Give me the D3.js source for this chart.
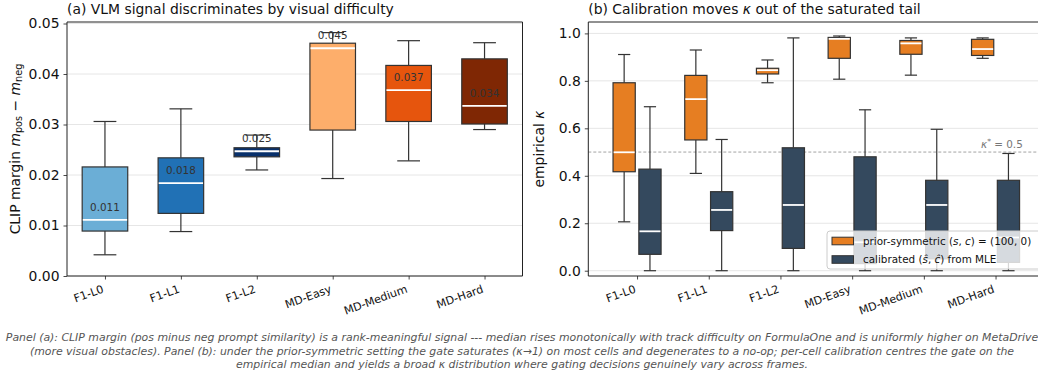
<!DOCTYPE html>
<html>
<head>
<meta charset="utf-8">
<script src="https://cdn.jsdelivr.net/npm/d3@7"></script>
<style>
  body { margin: 0; background: #fff; }
  svg { display: block; font-family: "DejaVu Sans", sans-serif; }
</style>
</head>
<body>
<svg id="fig" width="1038" height="375"></svg>
<script>
// ---- data -------------------------------------------------------------
const categories = ["F1-L0", "F1-L1", "F1-L2", "MD-Easy", "MD-Medium", "MD-Hard"];

// Panel (a): CLIP margin per cell (whisker low, Q1, median, Q3, whisker high)
const marginLow    = [0.0042, 0.0088, 0.0210, 0.0193, 0.0228, 0.0290];
const marginQ1     = [0.0089, 0.0124, 0.0236, 0.0289, 0.0306, 0.0301];
const marginMedian = [0.0111, 0.0184, 0.0247, 0.0451, 0.0368, 0.0337];
const marginQ3     = [0.0216, 0.0234, 0.0254, 0.0461, 0.0417, 0.0430];
const marginHigh   = [0.0306, 0.0331, 0.0279, 0.0482, 0.0466, 0.0462];
const marginColors = ["#6baed6", "#2171b5", "#08306b", "#fdae6b", "#e6550d", "#7f2704"];
const marginTicks  = [0.00, 0.01, 0.02, 0.03, 0.04, 0.05];

// Panel (b): empirical kappa, prior-symmetric vs calibrated gate
const priorLow     = [0.206, 0.410, 0.792, 0.807, 0.824, 0.895];
const priorQ1      = [0.417, 0.551, 0.829, 0.895, 0.912, 0.907];
const priorMedian  = [0.499, 0.723, 0.845, 0.977, 0.958, 0.934];
const priorQ3      = [0.792, 0.823, 0.853, 0.983, 0.970, 0.975];
const priorHigh    = [0.911, 0.930, 0.888, 0.989, 0.981, 0.981];

const calibLow     = [0.000, 0.000, 0.000, 0.000, 0.000, 0.000];
const calibQ1      = [0.069, 0.169, 0.094, 0.030, 0.050, 0.035];
const calibMedian  = [0.166, 0.256, 0.277, 0.120, 0.277, 0.140];
const calibQ3      = [0.428, 0.333, 0.518, 0.480, 0.381, 0.381];
const calibHigh    = [0.691, 0.553, 0.981, 0.678, 0.596, 0.494];
const kappaTicks   = [0.0, 0.2, 0.4, 0.6, 0.8, 1.0];
const kappaStar    = 0.5;

const priorColor = "#e67e22";
const calibColor = "#34495e";

const captionLines = [
  "Panel (a): CLIP margin (pos minus neg prompt similarity) is a rank-meaningful signal --- median rises monotonically with track difficulty on FormulaOne and is uniformly higher on MetaDrive",
  "(more visual obstacles). Panel (b): under the prior-symmetric setting the gate saturates (\u03ba\u21921) on most cells and degenerates to a no-op; per-cell calibration centres the gate on the",
  "empirical median and yields a broad \u03ba distribution where gating decisions genuinely vary across frames."
];

// ---- drawing ----------------------------------------------------------
const svg = d3.select("#fig");
const INK = "#333";
const GRID = "#e6e6e6";

function panel(opts) {
  const { left, right, top, bottom, x, y, ticks, tickFmt } = opts;
  const g = svg.append("g");
  // horizontal grid
  g.selectAll("line.grid").data(ticks).join("line")
    .attr("x1", left).attr("x2", right)
    .attr("y1", d => y(d)).attr("y2", d => y(d))
    .attr("stroke", GRID).attr("stroke-width", 1);
  // y axis
  const yAxis = d3.axisLeft(y).tickValues(ticks).tickFormat(tickFmt)
    .tickSize(3.5).tickPadding(4);
  const ya = g.append("g").attr("transform", `translate(${left},0)`).call(yAxis);
  ya.select(".domain").remove();
  ya.selectAll("line").attr("stroke", INK).attr("stroke-width", 0.9);
  ya.selectAll("text").attr("font-size", 13.9).attr("fill", "#111")
    .attr("font-family", "DejaVu Sans");
  // x axis with rotated category labels
  const xAxis = d3.axisBottom(x).tickValues(d3.range(categories.length))
    .tickFormat(i => categories[i]).tickSize(3.5);
  const xa = g.append("g").attr("transform", `translate(0,${bottom})`).call(xAxis);
  xa.select(".domain").remove();
  xa.selectAll("line").attr("stroke", INK).attr("stroke-width", 0.9);
  xa.selectAll("text")
    .attr("font-size", 11.1).attr("fill", "#111").attr("font-family", "DejaVu Sans")
    .attr("text-anchor", "end").attr("y", 0).attr("dy", 0)
    .attr("transform", "translate(-1,16) rotate(-20)");
  return g;
}

function boxes(g, x, y, pos, width, lo, q1, med, q3, hi, fill, capFrac) {
  const n = pos.length;
  const idx = d3.range(n);
  const half = width / 2;
  const cap = width * capFrac / 2;
  const gb = g.append("g");
  // whiskers
  gb.selectAll("line.wl").data(idx).join("line")
    .attr("x1", i => x(pos[i])).attr("x2", i => x(pos[i]))
    .attr("y1", i => y(q1[i])).attr("y2", i => y(lo[i]))
    .attr("stroke", INK).attr("stroke-width", 1.2);
  gb.selectAll("line.wh").data(idx).join("line")
    .attr("x1", i => x(pos[i])).attr("x2", i => x(pos[i]))
    .attr("y1", i => y(q3[i])).attr("y2", i => y(hi[i]))
    .attr("stroke", INK).attr("stroke-width", 1.2);
  // caps
  [lo, hi].forEach(arr => {
    gb.selectAll(null).data(idx).join("line")
      .attr("x1", i => x(pos[i] - cap)).attr("x2", i => x(pos[i] + cap))
      .attr("y1", i => y(arr[i])).attr("y2", i => y(arr[i]))
      .attr("stroke", INK).attr("stroke-width", 1.2);
  });
  // boxes
  gb.selectAll("rect").data(idx).join("rect")
    .attr("x", i => x(pos[i] - half))
    .attr("width", i => x(pos[i] + half) - x(pos[i] - half))
    .attr("y", i => y(q3[i]))
    .attr("height", i => y(q1[i]) - y(q3[i]))
    .attr("fill", i => typeof fill === "function" ? fill(i) : fill)
    .attr("stroke", INK).attr("stroke-width", 1.2);
  // medians
  gb.selectAll("line.med").data(idx).join("line")
    .attr("x1", i => x(pos[i] - half) + 0.6).attr("x2", i => x(pos[i] + half) - 0.6)
    .attr("y1", i => y(med[i])).attr("y2", i => y(med[i]))
    .attr("stroke", "#fff").attr("stroke-width", 1.8);
  return gb;
}

function spines(left, right, top, bottom, sides) {
  const s = svg.append("g").attr("stroke", "#222").attr("stroke-width", 1).attr("fill", "none");
  if (sides.includes("l")) s.append("line").attr("x1", left).attr("x2", left).attr("y1", top).attr("y2", bottom);
  if (sides.includes("r")) s.append("line").attr("x1", right).attr("x2", right).attr("y1", top).attr("y2", bottom);
  if (sides.includes("t")) s.append("line").attr("x1", left).attr("x2", right).attr("y1", top).attr("y2", top);
  if (sides.includes("b")) s.append("line").attr("x1", left).attr("x2", right).attr("y1", bottom).attr("y2", bottom);
}

// ---------- panel (a) ----------
const A = { left: 67, right: 522.5, top: 22, bottom: 276 };
const xa = d3.scaleLinear().domain([-0.5, 5.5]).range([A.left, A.right]);
const ya = d3.scaleLinear().domain([0, 0.0503]).range([A.bottom, A.top]);
const ga = panel({ ...A, x: xa, y: ya, ticks: marginTicks, tickFmt: d3.format(".2f") });
const posA = d3.range(categories.length);
boxes(ga, xa, ya, posA, 0.6, marginLow, marginQ1, marginMedian, marginQ3, marginHigh,
      i => marginColors[i], 0.5);
// median value labels
ga.selectAll("text.mlab").data(posA).join("text")
  .attr("x", i => xa(i)).attr("y", i => ya(marginMedian[i]) - 9)
  .attr("text-anchor", "middle").attr("font-size", 10.4).attr("fill", "#333")
  .text(i => d3.format(".3f")(marginMedian[i]));
spines(A.left, A.right, A.top, A.bottom, "lrtb");

svg.append("text").attr("x", A.left).attr("y", 13.5)
  .attr("font-size", 13.9).attr("fill", "#111")
  .text("(a) VLM signal discriminates by visual difficulty");

// y label (a) with math
const yla = svg.append("text")
  .attr("transform", `translate(19.5,${(A.top + A.bottom) / 2}) rotate(-90)`)
  .attr("text-anchor", "middle").attr("font-size", 13.9).attr("fill", "#111");
yla.append("tspan").text("CLIP margin  ");
yla.append("tspan").attr("font-style", "italic").text("m");
yla.append("tspan").attr("font-size", 9.7).attr("dy", 2.5).text("pos");
yla.append("tspan").attr("dy", -2.5).text(" \u2212 ");
yla.append("tspan").attr("font-style", "italic").text("m");
yla.append("tspan").attr("font-size", 9.7).attr("dy", 2.5).text("neg");

// ---------- panel (b) ----------
const B = { left: 588.3, right: 1044.3, top: 22, bottom: 276 };
const xb = d3.scaleLinear().domain([-0.68, 5.68]).range([B.left, B.right]);
const yb = d3.scaleLinear().domain([-0.0223, 1.048]).range([B.bottom, B.top]);
const gb = panel({ ...B, x: xb, y: yb, ticks: kappaTicks, tickFmt: d3.format(".1f") });

// reference level kappa* = 0.5
gb.append("line").attr("x1", B.left).attr("x2", B.right)
  .attr("y1", yb(kappaStar)).attr("y2", yb(kappaStar))
  .attr("stroke", "#999").attr("stroke-width", 0.9).attr("stroke-dasharray", "3,2");
const ks = gb.append("text").attr("x", xb(5.38)).attr("y", yb(kappaStar) - 4)
  .attr("text-anchor", "end").attr("font-size", 10.4).attr("fill", "#777");
ks.append("tspan").attr("font-style", "italic").text("\u03ba");
ks.append("tspan").attr("font-size", 7.5).attr("dy", -4).text("*");
ks.append("tspan").attr("dy", 4).text(" = " + kappaStar);

const posPrior = posA.map(i => i - 0.18);
const posCalib = posA.map(i => i + 0.18);
boxes(gb, xb, yb, posPrior, 0.31, priorLow, priorQ1, priorMedian, priorQ3, priorHigh, priorColor, 0.55);
boxes(gb, xb, yb, posCalib, 0.31, calibLow, calibQ1, calibMedian, calibQ3, calibHigh, calibColor, 0.55);
spines(B.left, B.right, B.top, B.bottom, "ltb");

svg.append("text").attr("x", B.left).attr("y", 13.5)
  .attr("font-size", 13.9).attr("fill", "#111")
  .call(t => {
    t.append("tspan").text("(b) Calibration moves ");
    t.append("tspan").attr("font-style", "italic").text("\u03ba");
    t.append("tspan").text(" out of the saturated tail");
  });

const ylb = svg.append("text")
  .attr("transform", `translate(543.5,${(B.top + B.bottom) / 2}) rotate(-90)`)
  .attr("text-anchor", "middle").attr("font-size", 13.9).attr("fill", "#111");
ylb.append("tspan").text("empirical ");
ylb.append("tspan").attr("font-style", "italic").text("\u03ba");

// legend
const L = { x: 827, y: 231, w: 214, h: 38 };
const leg = svg.append("g");
leg.append("rect").attr("x", L.x).attr("y", L.y).attr("width", L.w).attr("height", L.h)
  .attr("rx", 3).attr("fill", "#fff").attr("fill-opacity", 0.8)
  .attr("stroke", "#ccc").attr("stroke-width", 1);
const legendItems = [
  { color: priorColor, parts: [["prior-symmetric (", 0], ["s", 1], [", ", 0], ["c", 1], [") = (100, 0)", 0]] },
  { color: calibColor, parts: [["calibrated (", 0], ["\u015d", 1], [", ", 0], ["\u0109", 1], [") from MLE", 0]] }
];
legendItems.forEach((it, k) => {
  const cy = L.y + 10 + k * 18.5;
  leg.append("rect").attr("x", L.x + 5).attr("y", cy - 3.8).attr("width", 21.5).attr("height", 7.6)
    .attr("fill", it.color).attr("stroke", INK).attr("stroke-width", 1);
  const t = leg.append("text").attr("x", L.x + 36).attr("y", cy + 3.8)
    .attr("font-size", 10.4).attr("fill", "#111");
  it.parts.forEach(([s, it2]) => {
    const sp = t.append("tspan").text(s);
    if (it2) sp.attr("font-style", "italic");
  });
});

// caption
svg.append("g").selectAll("text").data(captionLines).join("text")
  .attr("x", 522).attr("y", (d, i) => 341 + i * 13.6)
  .attr("text-anchor", "middle").attr("font-size", 10.9)
  .attr("font-style", "italic").attr("fill", "#555")
  .text(d => d);
</script>
</body>
</html>
